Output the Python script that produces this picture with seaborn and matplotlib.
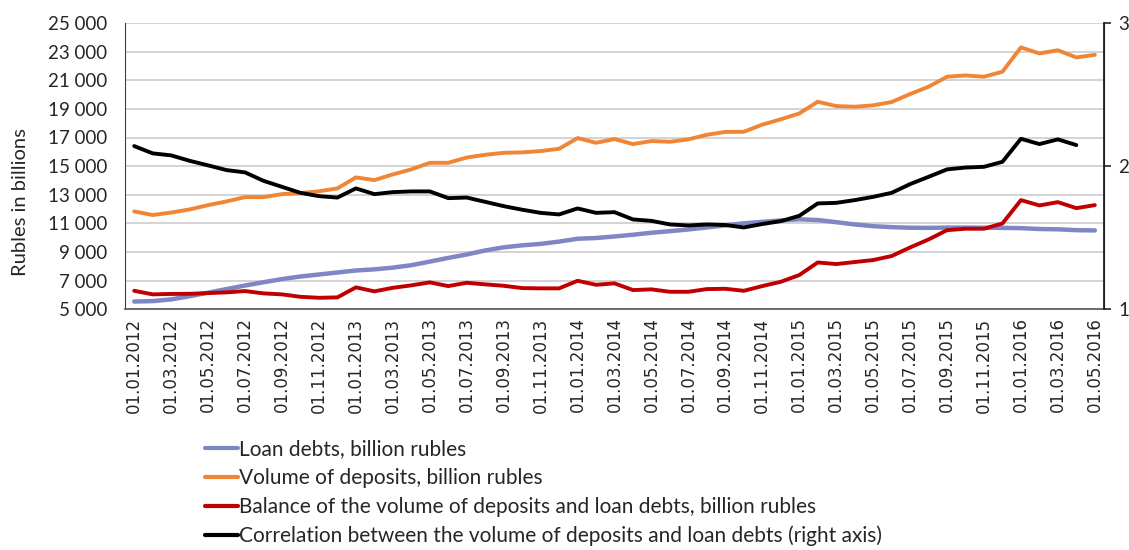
import numpy as np
import pandas as pd
import matplotlib
matplotlib.use("Agg")
import matplotlib.pyplot as plt
import seaborn as sns
from matplotlib.ticker import FuncFormatter

# monthly dates, 01.01.2012 .. 01.05.2016
months = [f"01.{m:02d}.{y}" for y in range(2012, 2017) for m in range(1, 13)][:53]

loans = [5530, 5560, 5680, 5900, 6150, 6400, 6650, 6880, 7100, 7280,
         7420, 7560, 7700, 7780, 7900, 8070, 8320, 8580, 8820, 9100,
         9320, 9460, 9560, 9720, 9920, 9970, 10080, 10200, 10340, 10450,
         10570, 10710, 10860, 11000, 11100, 11200, 11280, 11230, 11080, 10920,
         10800, 10730, 10690, 10680, 10700, 10700, 10690, 10680, 10660, 10600,
         10580, 10520, 10500]

deposits = [11830, 11580, 11750, 11970, 12270, 12530, 12830, 12830, 13040, 13110,
            13240, 13440, 14210, 14020, 14420, 14770, 15230, 15230, 15600, 15790,
            15930, 15960, 16050, 16210, 16960, 16630, 16890, 16540, 16750, 16700,
            16870, 17190, 17390, 17400, 17900, 18270, 18680, 19500, 19200, 19150,
            19250, 19480, 20040, 20550, 21250, 21340, 21250, 21600, 23300, 22880,
            23100, 22600, 22780]

balance = [6280, 6030, 6060, 6070, 6120, 6170, 6260, 6100, 6030, 5860,
           5790, 5820, 6520, 6240, 6490, 6660, 6870, 6610, 6840, 6730,
           6630, 6470, 6450, 6450, 6980, 6700, 6800, 6330, 6380, 6210,
           6210, 6400, 6420, 6280, 6610, 6910, 7380, 8260, 8150, 8290,
           8430, 8710, 9310, 9870, 10520, 10620, 10620, 10990, 12620, 12250,
           12480, 12060, 12270]

# right axis, last month missing
correlation = [2.140, 2.089, 2.075, 2.037, 2.005, 1.972, 1.956, 1.897, 1.855, 1.813,
               1.790, 1.780, 1.844, 1.804, 1.818, 1.823, 1.823, 1.776, 1.780, 1.750,
               1.720, 1.695, 1.673, 1.662, 1.704, 1.673, 1.678, 1.627, 1.617, 1.592,
               1.585, 1.592, 1.588, 1.571, 1.595, 1.615, 1.652, 1.739, 1.743, 1.762,
               1.785, 1.813, 1.874, 1.925, 1.977, 1.990, 1.995, 2.030, 2.191, 2.154,
               2.187, 2.147]

labels = ["Loan debts, billion rubles",
          "Volume of deposits, billion rubles",
          "Balance of the volume of deposits and loan debts, billion rubles",
          "Correlation between the volume of deposits and loan debts (right axis)"]
colors = ["#7F86C4", "#F08536", "#C00000", "#000000"]

df = pd.DataFrame({"pos": np.arange(len(months)), "loans": loans,
                   "deposits": deposits, "balance": balance})
df_corr = pd.DataFrame({"pos": np.arange(len(correlation)), "corr": correlation})

sns.set_style("white")
plt.rcParams['font.family'] = ['Lato', 'DejaVu Sans']

fig = plt.figure(figsize=(11.29, 5.5), dpi=100)
ax = fig.add_axes([0.1107, 0.438, 0.8672, 0.520])
ax2 = ax.twinx()

sns.lineplot(data=df, x="pos", y="loans", ax=ax, color=colors[0], lw=3.2, label=labels[0])
sns.lineplot(data=df, x="pos", y="deposits", ax=ax, color=colors[1], lw=2.8, label=labels[1])
sns.lineplot(data=df, x="pos", y="balance", ax=ax, color=colors[2], lw=2.8, label=labels[2])
sns.lineplot(data=df_corr, x="pos", y="corr", ax=ax2, color=colors[3], lw=2.8, label=labels[3])

ax.set_xlim(-0.5, len(months) - 0.5)
ax.set_ylim(5000, 25000)
ax.set_yticks(range(5000, 25001, 2000))
ax.yaxis.set_major_formatter(FuncFormatter(lambda v, p: f"{int(v):,}".replace(",", " ")))
ax2.set_ylim(1, 3)
ax2.set_yticks([1, 2, 3])

ax.set_xticks(df["pos"][::2])
ax.set_xticklabels(months[::2], rotation=90, family="DejaVu Sans", fontsize=12)
ax.set_xlabel("")
ax2.set_ylabel("")
ax.set_ylabel("Rubles in billions", fontsize=14.5)
ax.yaxis.set_label_coords(-0.098, 0.374)

ax.yaxis.grid(True, color="#D0D0D0", lw=1.3)
ax.set_axisbelow(True)
ax.tick_params(axis="y", length=0, pad=13, labelsize=13.5)
ax.tick_params(axis="x", length=0, pad=6)
ax2.tick_params(axis="y", length=5, width=1.2, pad=5, labelsize=13.5, direction="out")

for a in (ax, ax2):
    a.spines["top"].set_visible(False)
ax.spines["left"].set_color("#404040")
ax.spines["bottom"].set_color("#606060")
ax.spines["bottom"].set_linewidth(1.3)
ax2.spines["left"].set_visible(False)
ax2.spines["bottom"].set_visible(False)
ax2.spines["right"].set_color("#202020")
ax2.spines["right"].set_linewidth(1.3)

h1, _ = ax.get_legend_handles_labels()
h2, _ = ax2.get_legend_handles_labels()
ax.get_legend().remove()
ax2.get_legend().remove()
leg = fig.legend(h1 + h2, labels, loc="upper left", bbox_to_anchor=(0.1816, 0.201),
                 frameon=False, fontsize=15, handlelength=1.6, handletextpad=0.05,
                 labelspacing=0.42, borderaxespad=0, borderpad=0)
for line in leg.get_lines():
    line.set_linewidth(3.0)

fig.savefig("out.png", dpi=100)
